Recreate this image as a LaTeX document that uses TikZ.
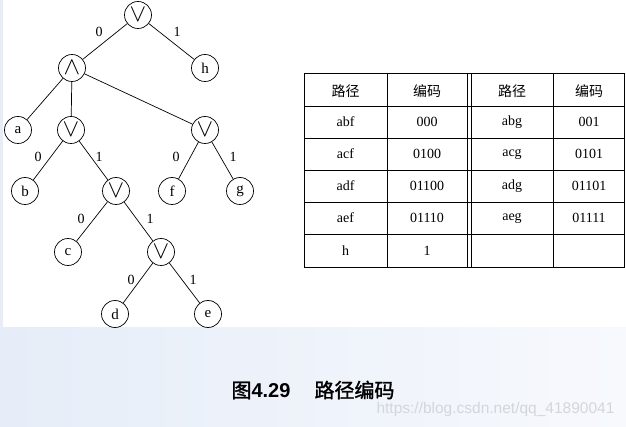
\documentclass[tikz,border=0pt]{standalone}
\usepackage{fontspec}
\setmainfont{Liberation Serif}
\newfontfamily\cjk{Noto Sans CJK SC}
\newfontfamily\cjkb[FakeBold=1.5]{Noto Sans CJK SC}
\newfontfamily\sansf{Liberation Sans}
\definecolor{bgA}{HTML}{E6EDF8}
\definecolor{bgB}{HTML}{F7F9FD}
\definecolor{wm}{HTML}{D2D6DD}
\tikzset{
 vx/.style={circle,draw,line width=0.7pt,minimum size=27pt,inner sep=0pt,font=\fontsize{15}{15}\selectfont},
 opx/.style={vx,font=\fontsize{24}{24}\selectfont},
 lb/.style={font=\fontsize{14}{14}\selectfont},
 ed/.style={line width=0.7pt},
 cell/.style={font=\fontsize{14}{14}\selectfont}
}
\begin{document}
\begin{tikzpicture}[x=1pt,y=-1pt]
\useasboundingbox (0,0) rectangle (626,427);
\shade[left color=bgA,right color=bgB] (0,328) rectangle (626,427);
\fill[bgA] (0,0) rectangle (3,328);
% tree
\node[opx] (r) at (138,15) {$\vee$};
\node[vx] (h) at (205,68) {h};
\node[opx] (n) at (72,68) {$\wedge$};
\node[vx] (a) at (18,130) {a};
\node[opx] (o1) at (71,130) {$\vee$};
\node[opx] (o2) at (205,130) {$\vee$};
\node[vx] (b) at (25,191) {b};
\node[opx] (o3) at (116,191) {$\vee$};
\node[vx] (f) at (172,191) {f};
\node[vx] (g) at (240,191) {g};
\node[vx] (c) at (68,252) {c};
\node[opx] (o4) at (161,252) {$\vee$};
\node[vx] (d) at (115,314) {d};
\node[vx] (e) at (208,314) {e};
\draw[ed] (r)--(n); \draw[ed] (r)--(h);
\draw[ed] (n)--(a); \draw[ed] (n)--(o1); \draw[ed] (n)--(o2);
\draw[ed] (o1)--(b); \draw[ed] (o1)--(o3);
\draw[ed] (o2)--(f); \draw[ed] (o2)--(g);
\draw[ed] (o3)--(c); \draw[ed] (o3)--(o4);
\draw[ed] (o4)--(d); \draw[ed] (o4)--(e);
\node[lb] (l1) at (99,32) {0}; \node[lb] (l2) at (177,32) {1};
\node[lb] (l3) at (38,157) {0}; \node[lb] (l4) at (99,157) {1};
\node[lb] (l5) at (176,157) {0}; \node[lb] (l6) at (233,157) {1};
\node[lb] (l7) at (81,219) {0}; \node[lb] (l8) at (150,219) {1};
\node[lb] (l9) at (131,280) {0}; \node[lb] (l10) at (193,280) {1};
% table
\draw[line width=1pt] (304,74) rectangle (624,268);
\foreach \yy in {106,138,170,202,234} \draw[line width=0.6pt] (304,\yy)--(624,\yy);
\foreach \xx in {387,553} \draw[line width=0.6pt] (\xx,74)--(\xx,268);
\draw[line width=0.8pt] (467,74)--(467,268);
\draw[line width=0.8pt] (471,74)--(471,268);
\node[cell] (h1) at (345.5,91) {\cjk 路径};
\node[cell] (h2) at (427,91) {\cjk 编码};
\node[cell] (h3) at (512,91) {\cjk 路径};
\node[cell] (h4) at (589,91) {\cjk 编码};
\node[cell] (c11) at (345.5,122) {abf}; \node[cell] (c12) at (427,122) {000};
\node[cell] (c13) at (512,122) {abg}; \node[cell] (c14) at (589,122) {001};
\node[cell] (c21) at (345.5,154) {acf}; \node[cell] (c22) at (427,154) {0100};
\node[cell] (c23) at (512,154) {acg}; \node[cell] (c24) at (589,154) {0101};
\node[cell] (c31) at (345.5,186) {adf}; \node[cell] (c32) at (427,186) {01100};
\node[cell] (c33) at (512,186) {adg}; \node[cell] (c34) at (589,186) {01101};
\node[cell] (c41) at (345.5,218) {aef}; \node[cell] (c42) at (427,218) {01110};
\node[cell] (c43) at (512,218) {aeg}; \node[cell] (c44) at (589,218) {01111};
\node[cell] (c51) at (345.5,251) {h}; \node[cell] (c52) at (427,251) {1};
% caption
\node[anchor=west,font=\fontsize{20}{20}\selectfont] (cap) at (228,390) {{\cjkb 图}{\sansf\bfseries 4.29}\hspace{24pt}{\cjkb 路径编码}};
\node[anchor=west,text=wm,font=\sansf\fontsize{15.5}{15.5}\selectfont] (wmk) at (373,409) {https://blog.csdn.net/qq\_41890041};
\end{tikzpicture}
\end{document}
